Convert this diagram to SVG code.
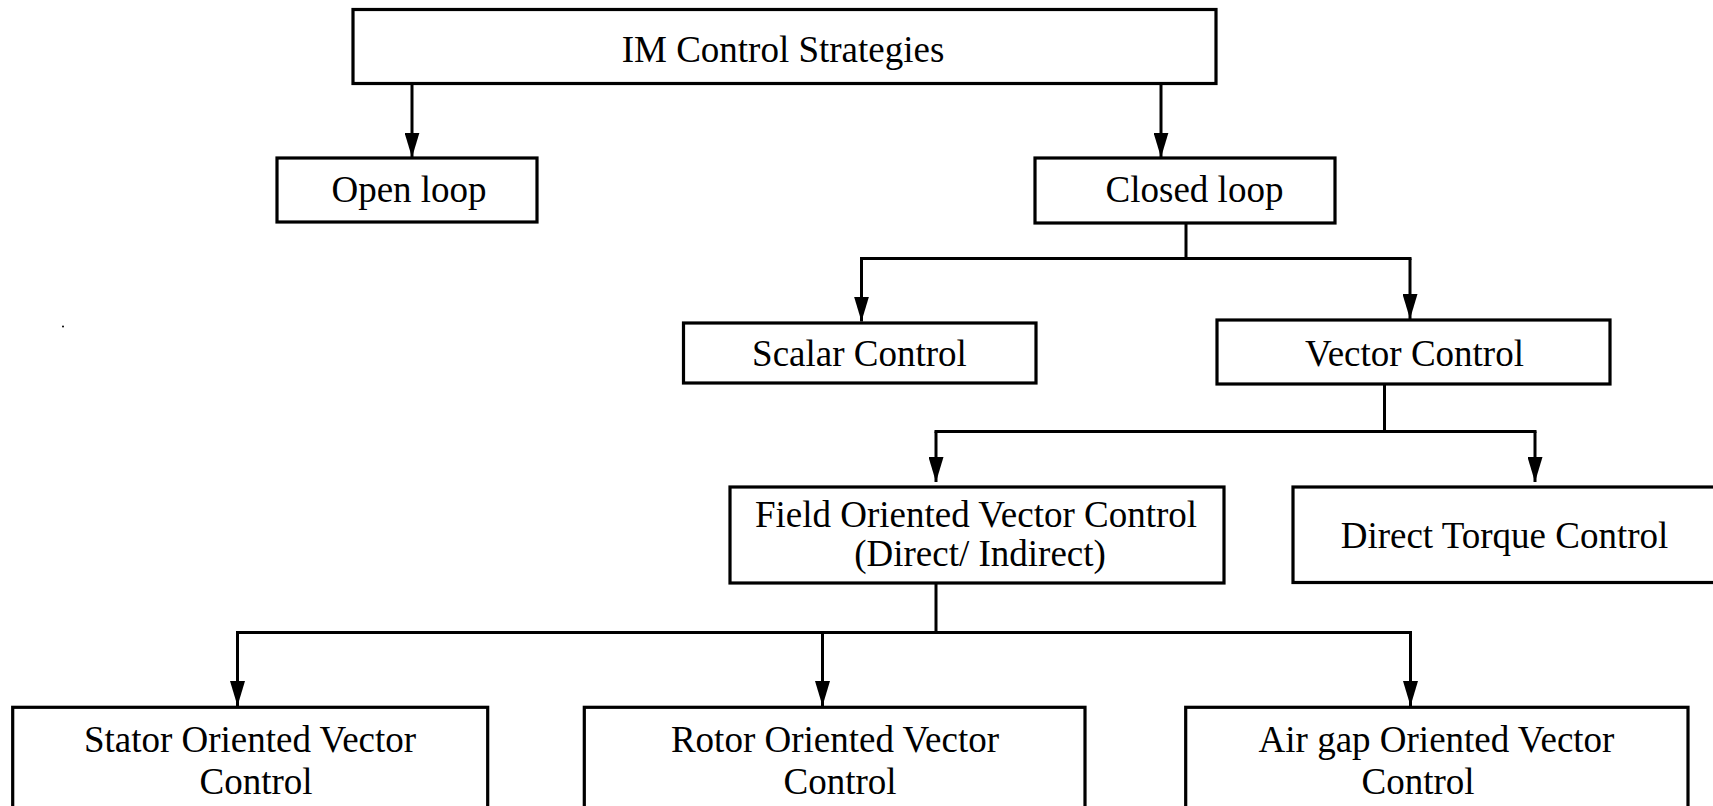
<svg xmlns="http://www.w3.org/2000/svg" width="1713" height="806" viewBox="0 0 1713 806">
  <style>
    .box { fill: #ffffff; stroke: #000000; stroke-width: 3.2; }
    .lbl { font-family: 'Liberation Serif', 'Times New Roman', serif; font-size: 37px; fill: #000000; text-anchor: middle; }
    .wire { fill: none; stroke: #000000; stroke-width: 3; }
    .arrow { fill: none; stroke: #000000; stroke-width: 3; marker-end: url(#head); }
  </style>
  <defs>
    <marker id="head" markerUnits="userSpaceOnUse" markerWidth="25" markerHeight="15" refX="25" refY="7.5" orient="auto">
      <path d="M0,0 L25,7.5 L0,15 Z" fill="#000000"/>
    </marker>
  </defs>
  <rect width="1713" height="806" fill="#ffffff"/>

  <g id="connectors">
    <path class="arrow" d="M412,83.5 V157.5"/>
    <path class="arrow" d="M1161,83.5 V157.5"/>
    <path class="wire" d="M1186,223 V258.5 M860,258.5 H1411.5"/>
    <path class="arrow" d="M861.5,258.5 V321.5"/>
    <path class="arrow" d="M1410,258.5 V319"/>
    <path class="wire" d="M1384.5,384 V431.5 M934.5,431.5 H1536.5"/>
    <path class="arrow" d="M936,431.5 V482"/>
    <path class="arrow" d="M1535,431.5 V482"/>
    <path class="wire" d="M936,583 V632.5 M236,632.5 H1412"/>
    <path class="arrow" d="M237.5,632.5 V706"/>
    <path class="arrow" d="M822.5,632.5 V706"/>
    <path class="arrow" d="M1410.5,632.5 V706"/>
  </g>

  <g id="node-im">
    <rect class="box" x="353" y="9.5" width="863" height="74"/>
    <text class="lbl" x="783" y="62">IM Control Strategies</text>
  </g>
  <g id="node-open">
    <rect class="box" x="277" y="158" width="260" height="64"/>
    <text class="lbl" x="409" y="202">Open loop</text>
  </g>
  <g id="node-closed">
    <rect class="box" x="1035" y="158" width="300" height="65"/>
    <text class="lbl" x="1194.5" y="202">Closed loop</text>
  </g>
  <g id="node-scalar">
    <rect class="box" x="683.5" y="323" width="352.5" height="60"/>
    <text class="lbl" x="859.5" y="366">Scalar Control</text>
  </g>
  <g id="node-vector">
    <rect class="box" x="1217" y="320" width="393" height="64"/>
    <text class="lbl" x="1414.5" y="366">Vector Control</text>
  </g>
  <g id="node-foc">
    <rect class="box" x="730" y="487" width="494" height="96"/>
    <text class="lbl" x="976" y="527">Field Oriented Vector Control</text>
    <text class="lbl" x="980" y="566">(Direct/ Indirect)</text>
  </g>
  <g id="node-dtc">
    <rect class="box" x="1293" y="487" width="440" height="95.5"/>
    <text class="lbl" x="1504.5" y="548">Direct Torque Control</text>
  </g>
  <g id="node-stator">
    <rect class="box" x="12.7" y="707.3" width="475" height="110"/>
    <text class="lbl" x="250" y="752">Stator Oriented Vector</text>
    <text class="lbl" x="256" y="794">Control</text>
  </g>
  <g id="node-rotor">
    <rect class="box" x="584.3" y="707.3" width="500.7" height="110"/>
    <text class="lbl" x="835" y="752">Rotor Oriented Vector</text>
    <text class="lbl" x="840" y="794">Control</text>
  </g>
  <g id="node-airgap">
    <rect class="box" x="1185.7" y="707.3" width="502.3" height="110"/>
    <text class="lbl" x="1436.5" y="752">Air gap Oriented Vector</text>
    <text class="lbl" x="1418" y="794">Control</text>
  </g>
  <circle cx="63" cy="326.5" r="1" fill="#000000"/>
</svg>
